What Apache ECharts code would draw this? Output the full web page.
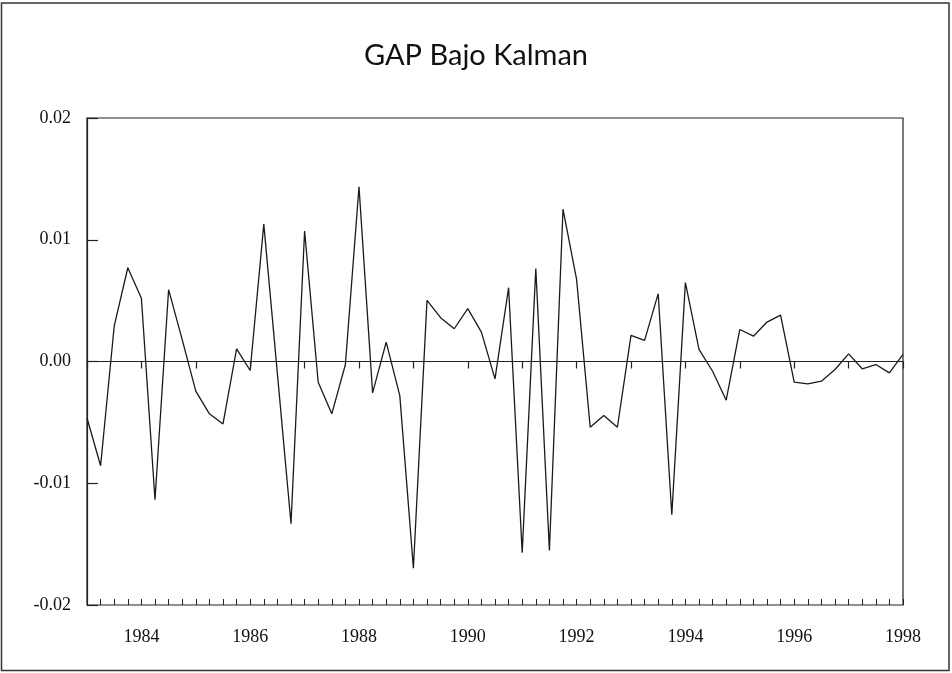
<!DOCTYPE html>
<html>
<head>
<meta charset="utf-8">
<script src="https://cdn.jsdelivr.net/npm/echarts@6/dist/echarts.min.js"></script>
<style>
html,body{margin:0;padding:0;background:#fff;}
#c{width:952px;height:673px;}
</style>
</head>
<body>
<div id="c"></div>
<script>
const title = 'GAP Bajo Kalman';
const periods = [
 1983.00,1983.25,1983.50,1983.75,1984.00,1984.25,1984.50,1984.75,
 1985.00,1985.25,1985.50,1985.75,1986.00,1986.25,1986.50,1986.75,
 1987.00,1987.25,1987.50,1987.75,1988.00,1988.25,1988.50,1988.75,
 1989.00,1989.25,1989.50,1989.75,1990.00,1990.25,1990.50,1990.75,
 1991.00,1991.25,1991.50,1991.75,1992.00,1992.25,1992.50,1992.75,
 1993.00,1993.25,1993.50,1993.75,1994.00,1994.25,1994.50,1994.75,
 1995.00,1995.25,1995.50,1995.75,1996.00,1996.25,1996.50,1996.75,
 1997.00,1997.25,1997.50,1997.75,1998.00
];
const gap = [
 -0.00464,-0.00856,0.00290,0.00770,0.00520,-0.01136,0.00590,0.00180,
 -0.00244,-0.00430,-0.00513,0.00104,-0.00074,0.01128,-0.00100,-0.01333,
 0.01072,-0.00170,-0.00430,-0.00025,0.01435,-0.00258,0.00159,-0.00280,
 -0.01698,0.00502,0.00360,0.00269,0.00434,0.00241,-0.00143,0.00606,
 -0.01570,0.00763,-0.01553,0.01251,0.00675,-0.00540,-0.00444,-0.00540,
 0.00214,0.00173,0.00557,-0.01259,0.00648,0.00099,-0.00080,-0.00318,
 0.00263,0.00208,0.00324,0.00381,-0.00170,-0.00184,-0.00162,-0.00066,
 0.00063,-0.00060,-0.00025,-0.00093,0.00058
];
const yTicks = ['-0.02','-0.01','0.00','0.01','0.02'];
const xLabelYears = [1984,1986,1988,1990,1992,1994,1996,1998];

const chart = echarts.init(document.getElementById('c'), null, {renderer:'canvas'});
const serif = '"Liberation Serif", "Times New Roman", serif';
chart.setOption({
  animation:false,
  backgroundColor:'#fff',
  title:{
    text:title, left:'center', top:36,
    textStyle:{fontFamily:'Lato, "DejaVu Sans", sans-serif', fontWeight:'normal', fontSize:29, color:'#111'}
  },
  graphic:[{
    type:'rect', shape:{x:1.5, y:3, width:947.5, height:667.5},
    style:{fill:null, stroke:'#333', lineWidth:1.5}, silent:true, z:100
  }],
  grid:{left:87, right:49, top:118, bottom:68, show:true, borderColor:'#222', borderWidth:1.2, backgroundColor:'transparent'},
  xAxis:[{
    type:'value', min:1983, max:1998, interval:1,
    axisLine:{show:true, lineStyle:{color:'#222', width:1.2}},
    axisTick:{show:true, inside:false, length:7, lineStyle:{color:'#222', width:1.2}},
    axisLabel:{
      margin:23, fontFamily:serif, fontSize:18, color:'#111',
      formatter:function(v){ return xLabelYears.indexOf(Math.round(v))>=0 ? String(Math.round(v)) : ''; }
    },
    splitLine:{show:false}
  },{
    type:'value', position:'bottom', min:1983, max:1998, interval:0.25, gridIndex:0,
    axisLine:{show:false},
    axisTick:{show:true, inside:true, length:6, lineStyle:{color:'#222', width:1}},
    axisLabel:{show:false},
    splitLine:{show:false}
  }],
  yAxis:{
    type:'value', min:-0.02, max:0.02, interval:0.01,
    axisLine:{show:true, lineStyle:{color:'#222', width:1.2}},
    axisTick:{show:true, inside:true, length:11, lineStyle:{color:'#222', width:1.2}},
    axisLabel:{
      margin:16, fontFamily:serif, fontSize:18, color:'#111',
      formatter:function(v){ const s = v.toFixed(2); const i = yTicks.indexOf(s==='-0.00'?'0.00':s); return i>=0 ? yTicks[i] : s; }
    },
    splitLine:{show:false}
  },
  series:[{
    type:'line', xAxisIndex:0,
    data: periods.map((p,i)=>[p, gap[i]]),
    symbol:'none', lineStyle:{color:'#1a1a1a', width:1.3},
    markLine:{
      silent:true, symbol:['none','none'], label:{show:false},
      lineStyle:{color:'#222', type:'solid', width:1.2},
      data:[{yAxis:0}]
    }
  }]
});
</script>
</body>
</html>
